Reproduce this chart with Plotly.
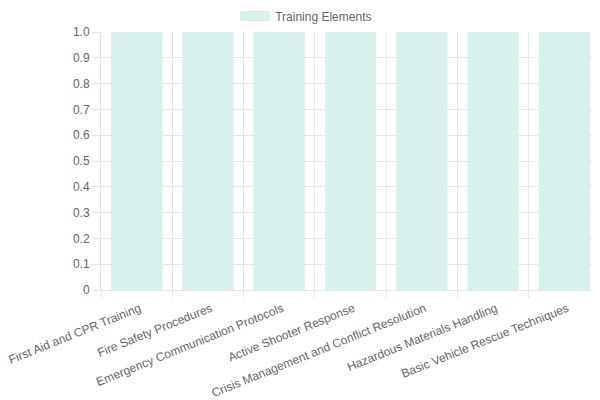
import plotly.graph_objects as go

categories = [
    "First Aid and CPR Training",
    "Fire Safety Procedures",
    "Emergency Communication Protocols",
    "Active Shooter Response",
    "Crisis Management and Conflict Resolution",
    "Hazardous Materials Handling",
    "Basic Vehicle Rescue Techniques",
]
values = [1, 1, 1, 1, 1, 1, 1]
y_ticks = [0, 0.1, 0.2, 0.3, 0.4, 0.5, 0.6, 0.7, 0.8, 0.9, 1.0]
y_labels = ["0", "0.1", "0.2", "0.3", "0.4", "0.5", "0.6", "0.7", "0.8", "0.9", "1.0"]
series_name = "Training Elements"

fill = "#d9f1ed"
grid = "#e5e5e5"
font = dict(family="Liberation Sans, Arial, sans-serif", size=12, color="#666666")

fig = go.Figure()
fig.add_trace(go.Bar(
    x=categories, y=values, name=series_name,
    marker=dict(color=fill, line=dict(width=0)), showlegend=False,
))
# wide swatch for the legend (bar legend symbols are tiny squares)
fig.add_trace(go.Scatter(
    x=[None], y=[None], mode="lines", name=series_name,
    line=dict(color=fill, width=12), showlegend=True, hoverinfo="skip",
))

# page body adds an 8px margin, so the margins below are shifted by that
fig.update_layout(
    width=600, height=400, font=font,
    paper_bgcolor="white", plot_bgcolor="white",
    margin=dict(l=93, r=8, t=24, b=118, autoexpand=False),
    bargap=0.28,
    legend=dict(orientation="h", x=0.497, xanchor="center", xref="container",
                y=0.98, yanchor="middle", yref="container", font=font),
)
fig.update_xaxes(
    type="category", tickson="boundaries", showgrid=True, gridcolor=grid,
    ticks="outside", ticklen=7, tickcolor=grid, tickangle=-22,
    ticklabelshift=3, ticklabelstandoff=6,
    showline=True, linecolor=grid, automargin=False,
)
fig.update_yaxes(
    range=[0, 1], tickvals=y_ticks, ticktext=y_labels, showgrid=True, gridcolor=grid,
    ticks="outside", ticklen=8, tickcolor=grid, showline=True, linecolor=grid,
    zeroline=False, automargin=False,
)

fig.write_html("out.html")
